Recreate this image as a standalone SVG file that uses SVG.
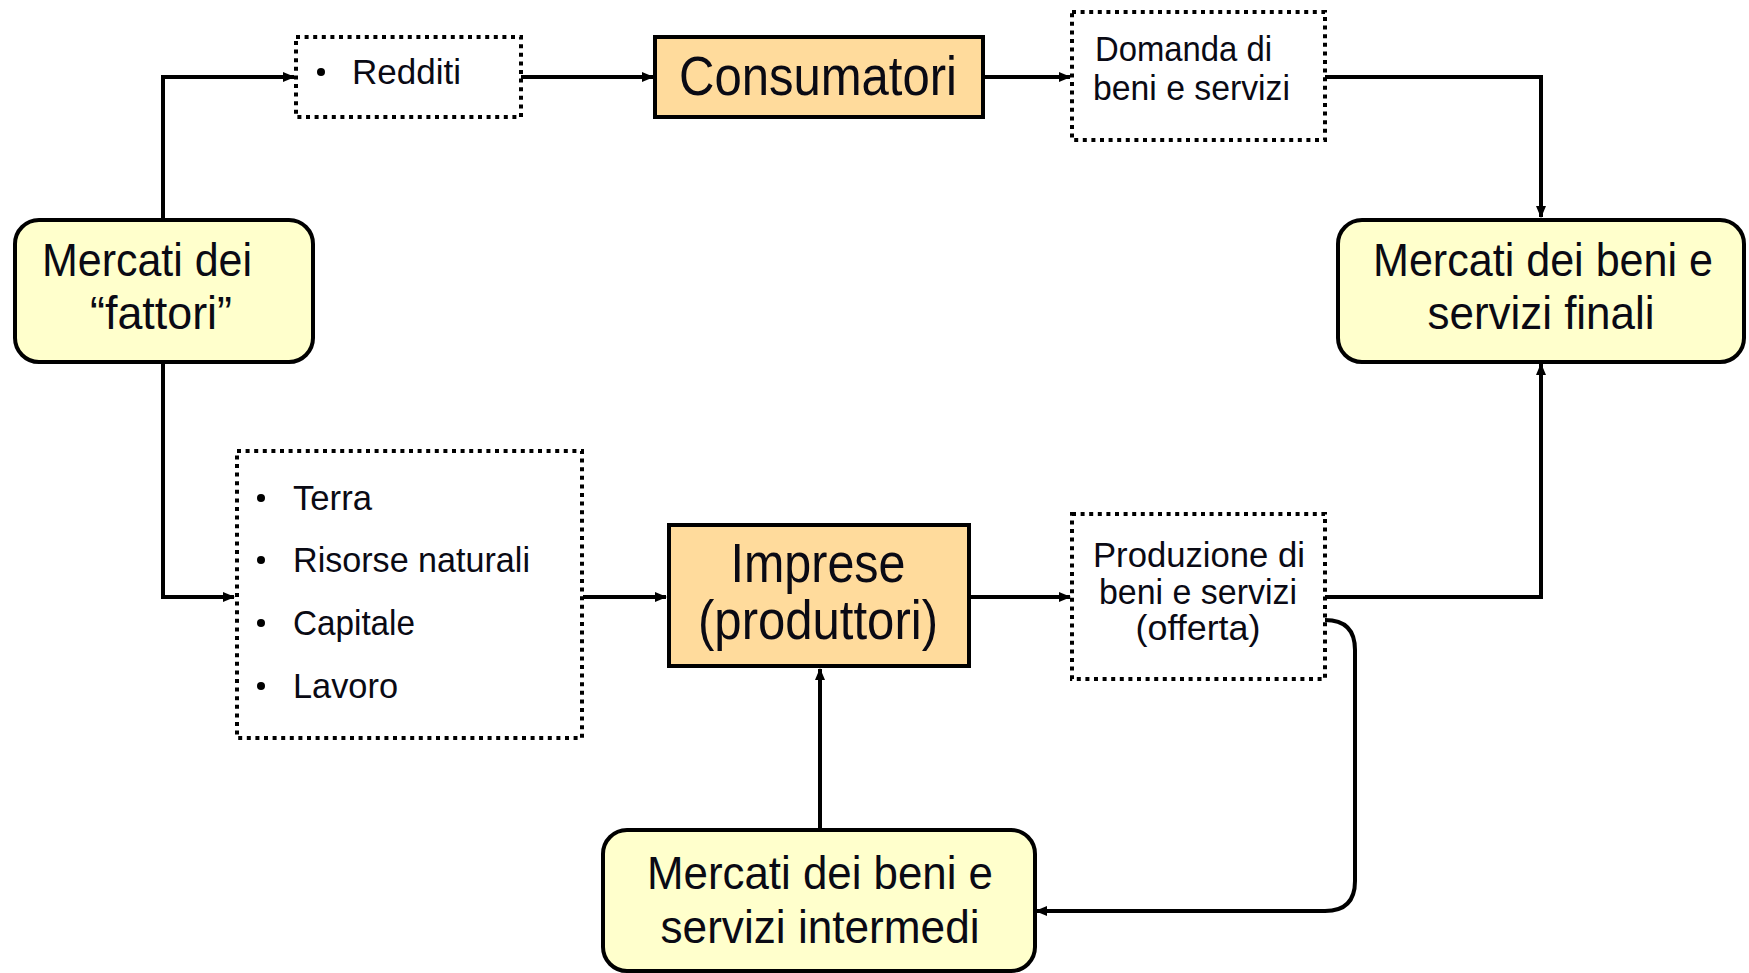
<svg xmlns="http://www.w3.org/2000/svg" width="1749" height="973" viewBox="0 0 1749 973">
<defs>
<marker id="ah" markerUnits="userSpaceOnUse" markerWidth="12" markerHeight="10" refX="11" refY="5" orient="auto">
<path d="M0,0 L12,5 L0,10 Z" fill="#000"/>
</marker>
<style>
.yel{fill:#FFFFCC;stroke:#000;stroke-width:4}
.ora{fill:#FFDB9C;stroke:#000;stroke-width:4}
.dot{fill:#fff;stroke:#000;stroke-width:4;stroke-dasharray:4 4.6}
.t{font-family:"Liberation Sans",Arial,sans-serif;fill:#0a0a14}
.big{font-size:56px}
.mid{font-size:46px}
.sm{font-size:35px}
.c{text-anchor:middle}
.conn path{fill:none;stroke:#000;stroke-width:4}
</style>
</defs>
<rect width="1749" height="973" fill="#fff"/>

<g class="conn" id="connectors">
<path d="M163,220 V77 H294" marker-end="url(#ah)"/>
<path d="M521,77 H653" marker-end="url(#ah)"/>
<path d="M983,77 H1070" marker-end="url(#ah)"/>
<path d="M1325,77 H1541 V217" marker-end="url(#ah)"/>
<path d="M163,362 V597 H234" marker-end="url(#ah)"/>
<path d="M583,597 H666" marker-end="url(#ah)"/>
<path d="M970,597 H1070" marker-end="url(#ah)"/>
<path d="M1325,597 H1541 V364" marker-end="url(#ah)"/>
<path d="M1325,620 Q1355,620 1355,650 V881 Q1355,911 1325,911 H1036" marker-end="url(#ah)"/>
<path d="M820,829 V669" marker-end="url(#ah)"/>
</g>

<g id="redditi">
<rect class="dot" x="296" y="37" width="225" height="80"/>
<circle cx="321" cy="72" r="4" fill="#000"/>
<text class="t sm" x="352" y="84" textLength="109" lengthAdjust="spacingAndGlyphs">Redditi</text>
</g>

<g id="consumatori">
<rect class="ora" x="655" y="37" width="328" height="80"/>
<text class="t big c" x="818" y="95" textLength="278" lengthAdjust="spacingAndGlyphs">Consumatori</text>
</g>

<g id="domanda">
<rect class="dot" x="1072" y="12" width="253" height="128"/>
<text class="t sm" x="1095" y="61" textLength="177" lengthAdjust="spacingAndGlyphs">Domanda di</text>
<text class="t sm" x="1093" y="100" textLength="197" lengthAdjust="spacingAndGlyphs">beni e servizi</text>
</g>

<g id="mercati-fattori">
<rect class="yel" x="15" y="220" width="298" height="142" rx="24"/>
<text class="t mid" x="42" y="276" textLength="210" lengthAdjust="spacingAndGlyphs">Mercati dei</text>
<text class="t mid" x="90" y="329" textLength="142" lengthAdjust="spacingAndGlyphs">“fattori”</text>
</g>

<g id="mercati-finali">
<rect class="yel" x="1338" y="220" width="406" height="142" rx="24"/>
<text class="t mid c" x="1543" y="276" textLength="340" lengthAdjust="spacingAndGlyphs">Mercati dei beni e</text>
<text class="t mid c" x="1541" y="329" textLength="227" lengthAdjust="spacingAndGlyphs">servizi finali</text>
</g>

<g id="fattori-lista">
<rect class="dot" x="237" y="451" width="345" height="287"/>
<circle cx="261" cy="498" r="4" fill="#000"/>
<circle cx="261" cy="560" r="4" fill="#000"/>
<circle cx="261" cy="623" r="4" fill="#000"/>
<circle cx="261" cy="686" r="4" fill="#000"/>
<text class="t sm" x="293" y="510" textLength="79" lengthAdjust="spacingAndGlyphs">Terra</text>
<text class="t sm" x="293" y="572" textLength="237" lengthAdjust="spacingAndGlyphs">Risorse naturali</text>
<text class="t sm" x="293" y="635" textLength="122" lengthAdjust="spacingAndGlyphs">Capitale</text>
<text class="t sm" x="293" y="698" textLength="105" lengthAdjust="spacingAndGlyphs">Lavoro</text>
</g>

<g id="imprese">
<rect class="ora" x="669" y="525" width="300" height="141"/>
<text class="t big c" x="818" y="582" textLength="175" lengthAdjust="spacingAndGlyphs">Imprese</text>
<text class="t big c" x="818" y="639" textLength="240" lengthAdjust="spacingAndGlyphs">(produttori)</text>
</g>

<g id="produzione">
<rect class="dot" x="1072" y="514" width="253" height="165"/>
<text class="t sm c" x="1199" y="567" textLength="212" lengthAdjust="spacingAndGlyphs">Produzione di</text>
<text class="t sm c" x="1198" y="604" textLength="198" lengthAdjust="spacingAndGlyphs">beni e servizi</text>
<text class="t sm c" x="1198" y="640" textLength="125" lengthAdjust="spacingAndGlyphs">(offerta)</text>
</g>

<g id="mercati-intermedi">
<rect class="yel" x="603" y="830" width="432" height="141" rx="24"/>
<text class="t mid c" x="820" y="889" textLength="346" lengthAdjust="spacingAndGlyphs">Mercati dei beni e</text>
<text class="t mid c" x="820" y="943" textLength="319" lengthAdjust="spacingAndGlyphs">servizi intermedi</text>
</g>
</svg>
